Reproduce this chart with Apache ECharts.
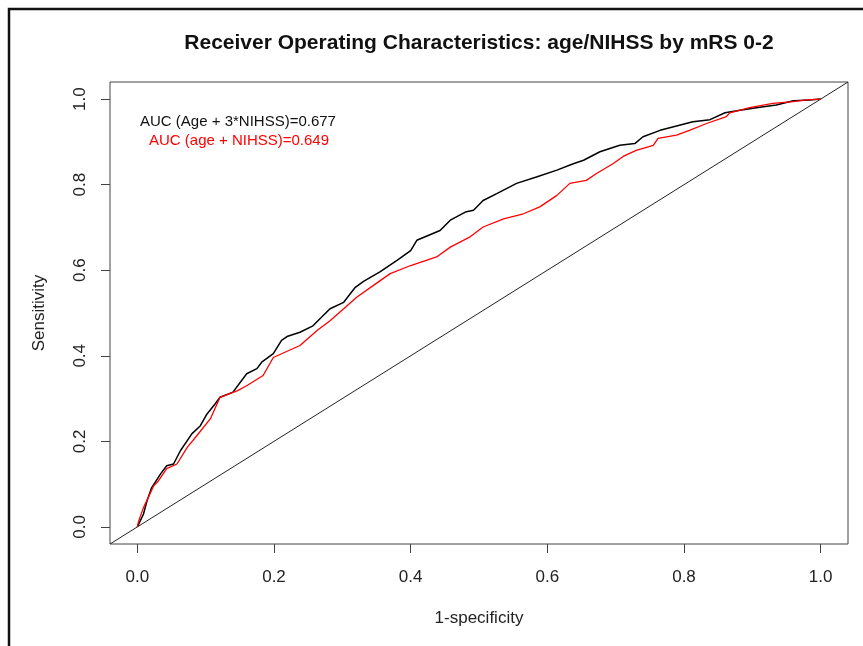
<!DOCTYPE html>
<html>
<head>
<meta charset="utf-8">
<script src="https://cdn.jsdelivr.net/npm/echarts@6/dist/echarts.min.js"></script>
<style>html,body{margin:0;padding:0;background:#fff}#c{width:863px;height:646px}</style>
</head>
<body>
<div id="c"></div>
<script>
var tickValues = [0, 0.2, 0.4, 0.6, 0.8, 1.0];
var fprA = [0,0.009,0.014,0.021,0.034,0.043,0.053,0.063,0.08,0.092,0.102,0.114,0.121,0.14,0.16,0.175,0.182,0.199,0.211,0.219,0.238,0.257,0.282,0.302,0.319,0.331,0.355,0.38,0.40,0.409,0.443,0.458,0.48,0.492,0.506,0.526,0.555,0.584,0.614,0.638,0.653,0.677,0.706,0.728,0.74,0.765,0.789,0.813,0.838,0.86,0.882,0.906,0.935,0.96,0.984,1];
var tprA = [0,0.03,0.06,0.092,0.124,0.143,0.147,0.178,0.218,0.236,0.264,0.288,0.303,0.315,0.358,0.37,0.385,0.405,0.436,0.445,0.455,0.47,0.51,0.525,0.56,0.574,0.596,0.623,0.646,0.67,0.693,0.717,0.736,0.74,0.763,0.779,0.803,0.818,0.834,0.849,0.857,0.877,0.892,0.896,0.912,0.927,0.937,0.947,0.952,0.968,0.974,0.98,0.986,0.996,0.998,1];
var fprB = [0,0.002,0.009,0.024,0.031,0.043,0.058,0.073,0.087,0.107,0.121,0.146,0.16,0.184,0.199,0.238,0.263,0.282,0.302,0.321,0.345,0.37,0.40,0.438,0.458,0.487,0.506,0.536,0.565,0.589,0.614,0.633,0.657,0.672,0.696,0.711,0.73,0.755,0.762,0.789,0.808,0.833,0.862,0.867,0.896,0.93,0.96,0.979,1];
var tprB = [0,0.014,0.045,0.096,0.108,0.136,0.147,0.186,0.213,0.253,0.303,0.318,0.33,0.354,0.396,0.424,0.459,0.482,0.51,0.537,0.564,0.592,0.611,0.631,0.654,0.678,0.701,0.72,0.732,0.748,0.775,0.803,0.81,0.826,0.849,0.866,0.88,0.892,0.908,0.916,0.927,0.943,0.959,0.968,0.98,0.99,0.994,0.998,1];
var diagX = [-0.04, 1.04];
var diagY = [-0.04, 1.04];

function pairs(xs, ys){ return xs.map(function(x,i){ return [x, ys[i]]; }); }

var FONT = '"Liberation Sans", Arial, sans-serif';
var chart = echarts.init(document.getElementById('c'), null, {renderer:'canvas'});
chart.setOption({
  animation: false,
  backgroundColor: '#fff',
  title: {
    text: 'Receiver Operating Characteristics: age/NIHSS by mRS 0-2',
    left: 474, top: 28, textAlign: 'center',
    textStyle: {fontFamily: FONT, fontSize: 21, fontWeight: 'bold', color: '#111'}
  },
  grid: {left: 110, right: 15, top: 82, bottom: 102, show: true, borderColor: '#444', borderWidth: 1, backgroundColor: 'transparent'},
  xAxis: {
    type: 'value', min: -0.04, max: 1.04,
    name: '1-specificity', nameLocation: 'middle', nameGap: 66,
    nameTextStyle: {fontFamily: FONT, fontSize: 17, color: '#222'},
    axisLine: {show: false, onZero: false},
    axisTick: {show: true, length: 9, customValues: tickValues, lineStyle: {color: '#444'}},
    axisLabel: {customValues: tickValues, margin: 25, fontFamily: FONT, fontSize: 17, color: '#222', formatter: function(v){ return v.toFixed(1); }},
    splitLine: {show: false}
  },
  yAxis: {
    type: 'value', min: -0.04, max: 1.04,
    name: 'Sensitivity', nameLocation: 'middle', nameGap: 62,
    nameTextStyle: {fontFamily: FONT, fontSize: 17, color: '#222'},
    axisLine: {show: false, onZero: false},
    axisTick: {show: true, length: 9, customValues: tickValues, lineStyle: {color: '#444'}},
    axisLabel: {customValues: tickValues, rotate: 90, margin: 21, fontFamily: FONT, fontSize: 17, color: '#222', formatter: function(v){ return v.toFixed(1); }},
    splitLine: {show: false}
  },
  graphic: [
    {type: 'rect', shape: {x: 9, y: 9, width: 900, height: 700}, style: {fill: 'none', stroke: '#111', lineWidth: 2.5}, silent: true},
    {type: 'text', x: 238, y: 122, style: {text: 'AUC (Age + 3*NIHSS)=0.677', fill: '#111', font: '15px "Liberation Sans", Arial, sans-serif', textAlign: 'center', textVerticalAlign: 'middle'}},
    {type: 'text', x: 239, y: 141, style: {text: 'AUC (age + NIHSS)=0.649', fill: '#ff0000', font: '15px "Liberation Sans", Arial, sans-serif', textAlign: 'center', textVerticalAlign: 'middle'}}
  ],
  series: [
    {type: 'line', data: pairs(diagX, diagY), symbol: 'none', lineStyle: {color: '#222', width: 1}, silent: true},
    {type: 'line', data: pairs(fprA, tprA), symbol: 'none', lineStyle: {color: '#000', width: 1.5}, silent: true},
    {type: 'line', data: pairs(fprB, tprB), symbol: 'none', lineStyle: {color: '#ff0000', width: 1.3}, silent: true}
  ]
});
</script>
</body>
</html>
